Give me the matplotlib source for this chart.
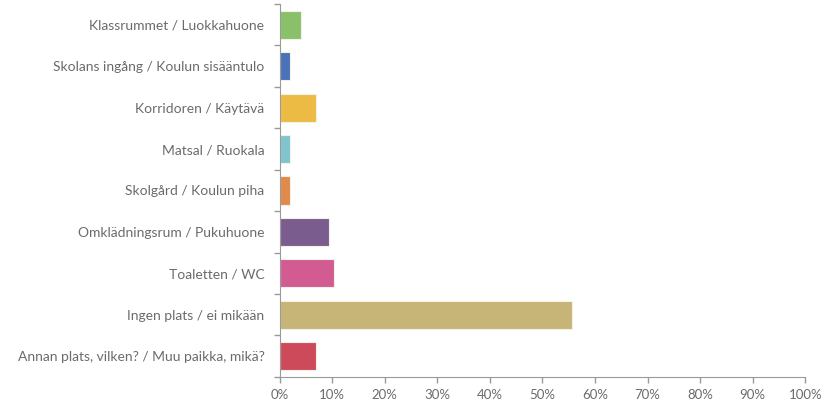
import matplotlib
matplotlib.use("Agg")
import matplotlib.pyplot as plt
from matplotlib.ticker import PercentFormatter

# Data (percent of answers)
places = [
    "Klassrummet / Luokkahuone",
    "Skolans ingång / Koulun sisääntulo",
    "Korridoren / Käytävä",
    "Matsal / Ruokala",
    "Skolgård / Koulun piha",
    "Omklädningsrum / Pukuhuone",
    "Toaletten / WC",
    "Ingen plats / ei mikään",
    "Annan plats, vilken? / Muu paikka, mikä?",
]
shares = [4.0, 2.0, 7.0, 2.0, 2.0, 9.3, 10.3, 55.6, 7.0]
colors = ["#8BC06B", "#4A72B8", "#EBBB44", "#80C4CF", "#E08A4C",
          "#7B5C8E", "#D25C91", "#C6B577", "#CD4A5B"]
xticks = list(range(0, 101, 10))

plt.rcParams['font.family'] = ['Lato', 'DejaVu Sans']
text_col = "#6b6b6b"
axis_col = "#9a9a9a"

fig = plt.figure(figsize=(8.25, 4.07), dpi=100)
ax = fig.add_axes([0.339, 0.074, 0.637, 0.916])

ypos = list(range(len(places)))
ax.barh(ypos, shares, height=0.68, color=colors, edgecolor="#f4f0e6", linewidth=0.8)

ax.set_xlim(0, 100)
ax.set_ylim(len(places) - 0.5, -0.5)
ax.set_xticks(xticks)
ax.xaxis.set_major_formatter(PercentFormatter(decimals=0))
ax.set_yticks(ypos)
ax.set_yticklabels(places)
# tick marks at category boundaries on the y axis
ax.set_yticks([i - 0.5 for i in range(len(places) + 1)], minor=True)
ax.tick_params(axis="y", which="major", length=0, pad=11, labelsize=10, labelcolor=text_col)
ax.tick_params(axis="y", which="minor", length=4, color=axis_col, width=1)
ax.tick_params(axis="x", length=4, color=axis_col, width=1, labelsize=9.5, labelcolor=text_col, pad=5)

for side in ["top", "right"]:
    ax.spines[side].set_visible(False)
ax.spines["left"].set_color(axis_col)
ax.spines["bottom"].set_color(axis_col)

fig.savefig("out.png", dpi=100)
